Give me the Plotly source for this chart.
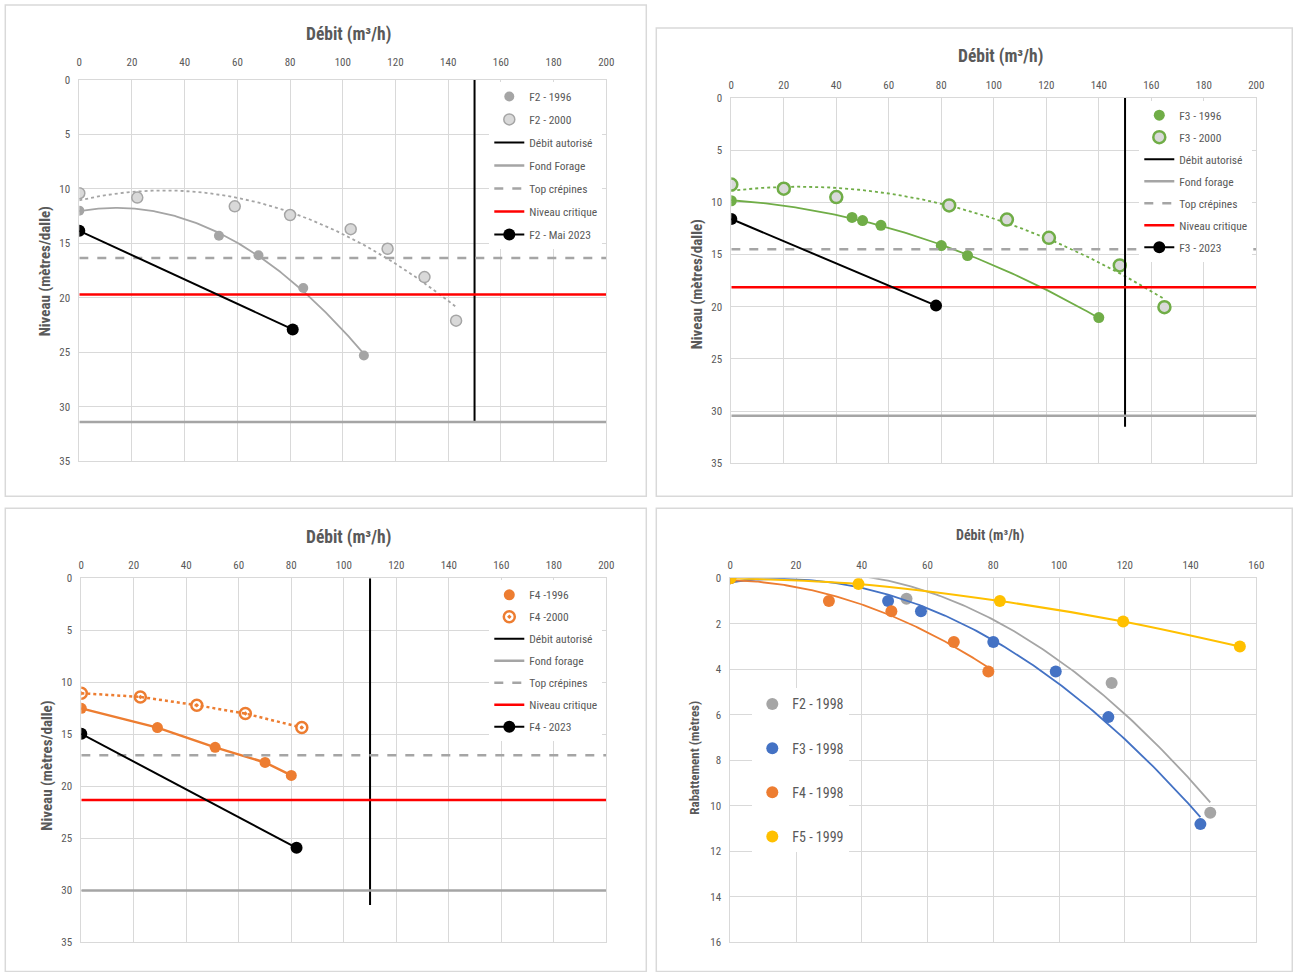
import numpy as np
import plotly.graph_objects as go

# ---------------- DATA ----------------
# Panel F2 (débit m3/h, niveau m/dalle)
f2_1996_q = [0, 53, 68, 85, 108]
f2_1996_n = [12.0, 14.3, 16.1, 19.1, 25.3]
f2_2000_q = [0, 22, 59, 80, 103, 117, 131, 143]
f2_2000_n = [10.4, 10.8, 11.6, 12.4, 13.7, 15.5, 18.1, 22.1]
f2_2023_q = [0, 81]
f2_2023_n = [13.85, 22.9]
f2_refs = {"debit": 150, "debit_bas": 31.4, "fond": 31.4, "crepines": 16.35, "critique": 19.7}

# Panel F3
f3_1996_q = [0, 46, 50, 57, 80, 90, 140]
f3_1996_n = [9.85, 11.45, 11.75, 12.2, 14.15, 15.1, 21.05]
f3_2000_q = [0, 20, 40, 83, 105, 121, 148, 165]
f3_2000_n = [8.3, 8.7, 9.5, 10.3, 11.65, 13.4, 16.05, 20.05]
f3_2023_q = [0, 78]
f3_2023_n = [11.6, 19.9]
f3_refs = {"debit": 150, "debit_bas": 31.5, "fond": 30.45, "crepines": 14.5, "critique": 18.15}

# Panel F4
f4_1996_q = [0, 29, 51, 70, 80]
f4_1996_n = [12.5, 14.35, 16.25, 17.7, 18.95]
f4_2000_q = [0, 22.5, 44, 62.5, 84]
f4_2000_n = [11.05, 11.4, 12.2, 13.0, 14.35]
f4_2023_q = [0, 82]
f4_2023_n = [14.95, 25.9]
f4_refs = {"debit": 110, "debit_bas": 31.4, "fond": 30, "crepines": 17, "critique": 21.3}

# Panel rabattement
r_f2_1998_q = [0, 53.6, 116, 146]
r_f2_1998_r = [0, 0.9, 4.6, 10.3]
r_f3_1998_q = [0, 48, 58, 80, 99, 115, 143]
r_f3_1998_r = [0, 1.0, 1.45, 2.8, 4.1, 6.1, 10.8]
r_f4_1998_q = [0, 30, 49, 68, 78.5]
r_f4_1998_r = [0, 1.0, 1.45, 2.8, 4.1]
r_f5_1999_q = [0, 39, 82, 119.5, 155]
r_f5_1999_r = [0, 0.25, 1.0, 1.9, 3.0]

# ---------------- STYLE ----------------
W, H = 1293, 972
# target pixel positions -> paper fractions (compensates the capture offset/scale)
def px(x): return ((x - 2.7) / 0.9915) / W
def py(y): return 1 - ((y - 6.1) / 0.986) / H

FONT = "Liberation Sans Narrow, Arial Narrow, Roboto Condensed, Liberation Sans, sans-serif"
GRID = "#d9d9d9"
TXT = "#595959"
GREY = "#a5a5a5"
LGREY = "#d9d9d9"
GREEN = "#70ad47"
ORANGE = "#ed7d31"
BLUE = "#4472c4"
YELLOW = "#ffc000"
RED = "#ff0000"

def trend(q, v, deg=2, n=150):
    c = np.polyfit(q, v, deg)
    xs = np.linspace(min(q), max(q), n)
    return xs, np.polyval(c, xs)

fig = go.Figure()

panels = [
    dict(dom=(79, 606, 80, 461), xr=200, xd=20, yr=35, yd=5, so=9),
    dict(dom=(731, 1256, 98, 463), xr=200, xd=20, yr=35, yd=5, so=4),
    dict(dom=(81, 606, 578, 942), xr=200, xd=20, yr=35, yd=5, so=4),
    dict(dom=(730, 1256, 578, 942), xr=160, xd=20, yr=16, yd=2, so=4),
]
layout_axes = {}
for i, p in enumerate(panels, start=1):
    x0, x1, y0, y1 = p["dom"]
    sx = "" if i == 1 else str(i)
    layout_axes["xaxis" + sx] = dict(
        domain=[px(x0), px(x1)], range=[0, p["xr"]], dtick=p["xd"], side="top",
        anchor="y" + sx, showgrid=True, gridcolor=GRID, gridwidth=1, zeroline=False,
        showline=True, mirror=True, linecolor=GRID, linewidth=1, ticks="",
        tickfont=dict(family=FONT, size=11, color=TXT), ticklabelstandoff=p["so"],
        fixedrange=True)
    layout_axes["yaxis" + sx] = dict(
        domain=[py(y1), py(y0)], range=[p["yr"], 0], dtick=p["yd"],
        anchor="x" + sx, showgrid=True, gridcolor=GRID, gridwidth=1, zeroline=False,
        showline=True, mirror=True, linecolor=GRID, linewidth=1, ticks="",
        tickfont=dict(family=FONT, size=11, color=TXT), ticklabelstandoff=6,
        fixedrange=True)

def add_level_panel(k, lg, xmax, d1996, d2000, d2023, refs, names, color,
                    style1996, style2000, trendlines):
    xa = "x" if k == 1 else "x" + str(k)
    ya = "y" if k == 1 else "y" + str(k)
    common = dict(xaxis=xa, yaxis=ya, legend=lg)
    q1, n1 = d1996
    q2, n2 = d2000
    if trendlines:
        tx1, ty1 = trend(q1, n1)
        tx2, ty2 = trend(q2, n2)
    else:
        tx1, ty1, tx2, ty2 = q1, n1, q2, n2
    fig.add_trace(go.Scatter(x=tx1, y=ty1, mode="lines",
                             line=dict(color=color, width=1.8 if trendlines else 2.5),
                             showlegend=False, hoverinfo="skip", **common))
    fig.add_trace(go.Scatter(x=tx2, y=ty2, mode="lines",
                             line=dict(color=color, width=1.8 if trendlines else 2.5, dash="dot"),
                             showlegend=False, hoverinfo="skip", **common))
    fig.add_trace(go.Scatter(x=q1, y=n1, mode="markers", name=names[0], legendgroup=f"{lg}a",
                             marker=style1996, **common))
    fig.add_trace(go.Scatter(x=q2, y=n2, mode="markers", name=names[1], legendgroup=f"{lg}b",
                             marker=style2000, **common))
    fig.add_trace(go.Scatter(x=[refs["debit"], refs["debit"]], y=[0, refs["debit_bas"]], mode="lines",
                             name="Débit autorisé", legendgroup=f"{lg}c",
                             line=dict(color="black", width=2), **common))
    fig.add_trace(go.Scatter(x=[0, xmax], y=[refs["fond"], refs["fond"]], mode="lines",
                             name=names[2], legendgroup=f"{lg}d",
                             line=dict(color=GREY, width=2.5), **common))
    fig.add_trace(go.Scatter(x=[0, xmax], y=[refs["crepines"], refs["crepines"]], mode="lines",
                             name="Top crépines", legendgroup=f"{lg}e",
                             line=dict(color=GREY, width=2.5, dash="dash"), **common))
    fig.add_trace(go.Scatter(x=[0, xmax], y=[refs["critique"], refs["critique"]], mode="lines",
                             name="Niveau critique", legendgroup=f"{lg}f",
                             line=dict(color=RED, width=2.5), **common))
    q3, n3 = d2023
    fig.add_trace(go.Scatter(x=q3, y=n3, mode="lines+markers", name=names[3], legendgroup=f"{lg}g",
                             line=dict(color="black", width=2),
                             marker=dict(color="black", size=12), **common))

add_level_panel(1, "legend", 200, (f2_1996_q, f2_1996_n), (f2_2000_q, f2_2000_n),
                (f2_2023_q, f2_2023_n), f2_refs,
                ["F2 - 1996", "F2 - 2000", "Fond Forage", "F2 - Mai 2023"], GREY,
                dict(color=GREY, size=10),
                dict(color=LGREY, size=11, line=dict(color=GREY, width=1.5)), True)
add_level_panel(2, "legend2", 200, (f3_1996_q, f3_1996_n), (f3_2000_q, f3_2000_n),
                (f3_2023_q, f3_2023_n), f3_refs,
                ["F3 - 1996", "F3 - 2000", "Fond forage", "F3 - 2023"], GREEN,
                dict(color=GREEN, size=11),
                dict(color=LGREY, size=12, line=dict(color=GREEN, width=2.5)), True)
add_level_panel(3, "legend3", 200, (f4_1996_q, f4_1996_n), (f4_2000_q, f4_2000_n),
                (f4_2023_q, f4_2023_n), f4_refs,
                ["F4 -1996", "F4 -2000", "Fond forage", "F4 - 2023"], ORANGE,
                dict(color=ORANGE, size=11),
                dict(color=ORANGE, size=11, symbol="circle-open-dot", line=dict(color=ORANGE, width=2.5)),
                False)

# Panel 4: rabattement
c4 = dict(xaxis="x4", yaxis="y4", legend="legend4")
for q, r, col, name, g in [
    (r_f2_1998_q, r_f2_1998_r, GREY, "F2 - 1998", "a"),
    (r_f3_1998_q, r_f3_1998_r, BLUE, "F3 - 1998", "b"),
    (r_f4_1998_q, r_f4_1998_r, ORANGE, "F4 - 1998", "c"),
]:
    tx, ty = trend(q, r)
    fig.add_trace(go.Scatter(x=tx, y=ty, mode="lines", line=dict(color=col, width=1.8),
                             showlegend=False, hoverinfo="skip", **c4))
    fig.add_trace(go.Scatter(x=q, y=r, mode="markers", name=name, legendgroup="L4" + g,
                             marker=dict(color=col, size=12), **c4))
fig.add_trace(go.Scatter(x=r_f5_1999_q, y=r_f5_1999_r, mode="lines",
                         line=dict(color=YELLOW, width=2, shape="spline"),
                         showlegend=False, hoverinfo="skip", **c4))
fig.add_trace(go.Scatter(x=r_f5_1999_q, y=r_f5_1999_r, mode="markers", name="F5 - 1999",
                         legendgroup="L4d", marker=dict(color=YELLOW, size=12), **c4))

def legend_at(x, ytop, size, gap):
    return dict(x=px(x), y=py(ytop), xanchor="left", yanchor="top", bgcolor="white",
                borderwidth=0, font=dict(family=FONT, size=size, color=TXT),
                tracegroupgap=gap, itemsizing="trace")

annotations = []
def ann(text, x, y, size, angle=0):
    annotations.append(dict(text=text, x=px(x), y=py(y), xref="paper", yref="paper",
                            showarrow=False, textangle=angle,
                            font=dict(family=FONT, size=size, color=TXT),
                            xanchor="center", yanchor="middle"))

ann("<b>Débit (m³/h)</b>", 348, 35, 17.5)
ann("<b>Niveau (mètres/dalle)</b>", 45, 271, 15)
annotations[-1]["textangle"] = -90
ann("<b>Débit (m³/h)</b>", 1000, 57, 17.5)
ann("<b>Niveau (mètres/dalle)</b>", 697, 284, 15, -90)
ann("<b>Débit (m³/h)</b>", 348, 537, 17.5)
ann("<b>Niveau (mètres/dalle)</b>", 47, 765, 15, -90)
ann("<b>Débit (m³/h)</b>", 990, 535, 14)
ann("<b>Rabattement (mètres)</b>", 694, 757, 13, -90)

shapes = []
for (x0, y0, x1, y1) in [(5, 5, 646, 496), (656, 28, 1292, 496), (5, 508, 646, 971), (656, 508, 1292, 971)]:
    shapes.append(dict(type="rect", xref="paper", yref="paper", x0=px(x0), x1=px(x1),
                       y0=py(y1), y1=py(y0), line=dict(color=LGREY, width=1.5),
                       fillcolor="rgba(0,0,0,0)", layer="below"))

fig.update_layout(
    width=W, height=H, margin=dict(l=0, r=0, t=0, b=0),
    paper_bgcolor="white", plot_bgcolor="white",
    font=dict(family=FONT, color=TXT),
    showlegend=True,
    legend=legend_at(489, 82, 11.5, 4),
    legend2=legend_at(1139, 100.7, 11.5, 3),
    legend3=legend_at(489, 580, 11.5, 3),
    legend4=legend_at(752, 688, 14, 23),
    annotations=annotations, shapes=shapes,
    **layout_axes,
)

post = ("document.documentElement.style.margin='0';document.documentElement.style.padding='0';"
        "document.documentElement.style.overflow='hidden';"
        "document.body.style.margin='0';document.body.style.padding='0';"
        "document.body.style.overflow='hidden';"
        "var d=document.getElementById('{plot_id}');"
        "d.style.position='absolute';d.style.left='0px';d.style.top='0px';")
fig.write_html("out.html", post_script=post, config={"displayModeBar": False})
